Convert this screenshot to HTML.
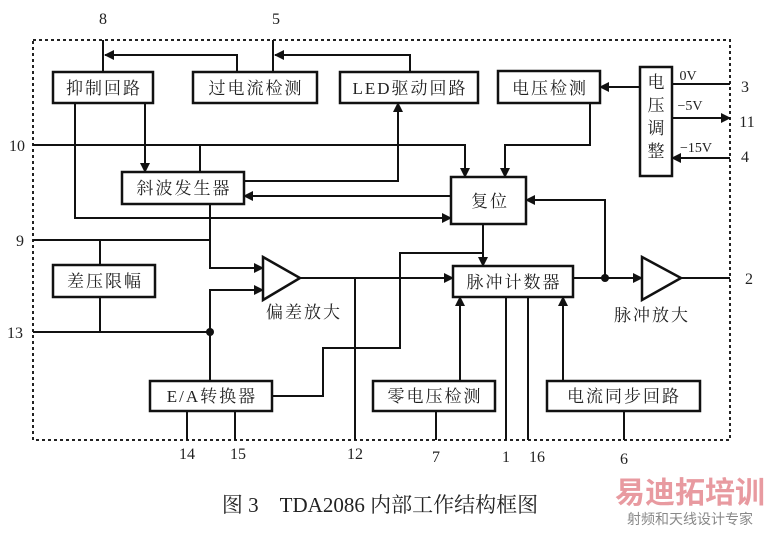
<!DOCTYPE html>
<html><head><meta charset="utf-8"><style>
body{margin:0;background:#fff}
svg text{font-family:"Liberation Serif","Noto Serif CJK SC",serif;fill:#222}
.b text{letter-spacing:2px}
</style></head><body>
<svg width="765" height="529" viewBox="0 0 765 529" xmlns="http://www.w3.org/2000/svg">
<defs><marker id="a" markerWidth="10" markerHeight="10" refX="9" refY="5" orient="auto" markerUnits="userSpaceOnUse"><path d="M0,0 L10,5 L0,10 z" fill="#111"/></marker></defs>
<rect x="33" y="40" width="697" height="400" fill="none" stroke="#222" stroke-width="2" stroke-dasharray="3,3"/>
<g fill="#fff" stroke="#111" stroke-width="2.5">
<rect x="53" y="72" width="100" height="31"/>
<rect x="193" y="72" width="124" height="31"/>
<rect x="340" y="72" width="138" height="31"/>
<rect x="498" y="71" width="102" height="32"/>
<rect x="640" y="67" width="32" height="109"/>
<rect x="122" y="172" width="122" height="32"/>
<rect x="451" y="177" width="75" height="47"/>
<rect x="53" y="265" width="102" height="32"/>
<rect x="453" y="266" width="120" height="31"/>
<rect x="150" y="381" width="122" height="30"/>
<rect x="373" y="381" width="122" height="30"/>
<rect x="547" y="381" width="153" height="30"/>
<path d="M263,257 L300,278 L263,300 z"/>
<path d="M642,257 L681,278 L642,300 z"/>
</g>
<g fill="none" stroke="#111" stroke-width="2">
<path d="M103,40 V72"/><path d="M273,40 V72"/>
<path d="M237,72 V55 H105" marker-end="url(#a)"/>
<path d="M410,72 V55 H275" marker-end="url(#a)"/>
<path d="M33,145 H465 V177" marker-end="url(#a)"/>
<path d="M200,145 V172"/>
<path d="M145,103 V172" marker-end="url(#a)"/>
<path d="M75,103 V218 H451" marker-end="url(#a)"/>
<path d="M244,181 H398 V103" marker-end="url(#a)"/>
<path d="M451,196 H244" marker-end="url(#a)"/>
<path d="M590,103 V145 H505 V177" marker-end="url(#a)"/>
<path d="M640,87 H600" marker-end="url(#a)"/>
<path d="M672,84 H730"/>
<path d="M672,118 H730" marker-end="url(#a)"/>
<path d="M730,158 H672" marker-end="url(#a)"/>
<path d="M605,278 V200 H526" marker-end="url(#a)"/>
<path d="M483,224 V266" marker-end="url(#a)"/>
<path d="M272,396 H323 V348 H400 V253 H483"/>
<path d="M33,240 H210"/>
<path d="M210,204 V268 H263" marker-end="url(#a)"/>
<path d="M210,381 V290 H263" marker-end="url(#a)"/>
<path d="M100,240 V265"/><path d="M100,297 V332"/>
<path d="M33,332 H210"/>
<path d="M300,278 H453" marker-end="url(#a)"/>
<path d="M355,278 V440"/>
<path d="M573,278 H642" marker-end="url(#a)"/>
<path d="M681,278 H730"/>
<path d="M187,411 V440"/><path d="M235,411 V440"/>
<path d="M436,411 V440"/><path d="M506,297 V440"/><path d="M528,297 V440"/><path d="M624,411 V440"/>
<path d="M460,381 V297" marker-end="url(#a)"/>
<path d="M563,381 V297" marker-end="url(#a)"/>
</g>
<circle cx="210" cy="332" r="4" fill="#111"/>
<circle cx="605" cy="278" r="4" fill="#111"/>
<g font-size="17" text-anchor="middle" class="b">
<text x="104" y="94">抑制回路</text>
<text x="256" y="94">过电流检测</text>
<text x="410" y="94">LED驱动回路</text>
<text x="550" y="94">电压检测</text>
<text x="184" y="194">斜波发生器</text>
<text x="490" y="207">复位</text>
<text x="105" y="287">差压限幅</text>
<text x="514" y="288">脉冲计数器</text>
<text x="212" y="402">E/A转换器</text>
<text x="435" y="402">零电压检测</text>
<text x="624" y="402">电流同步回路</text>
<text x="304" y="318">偏差放大</text>
<text x="652" y="321">脉冲放大</text>
</g>
<g font-size="17" text-anchor="middle">
<text x="656" y="88">电</text><text x="656" y="111">压</text><text x="656" y="134">调</text><text x="656" y="157">整</text>
</g>
<g font-size="16" text-anchor="middle">
<text x="103" y="24">8</text><text x="276" y="24">5</text>
<text x="17" y="151">10</text><text x="20" y="246">9</text><text x="15" y="338">13</text>
<text x="745" y="92">3</text><text x="747" y="127">11</text><text x="745" y="162">4</text><text x="749" y="284">2</text>
<text x="187" y="459">14</text><text x="238" y="459">15</text><text x="355" y="459">12</text>
<text x="436" y="462">7</text><text x="506" y="462">1</text><text x="537" y="462">16</text><text x="624" y="464">6</text>
<text x="688" y="80" font-size="14">0V</text>
<text x="690" y="110" font-size="14">−5V</text>
<text x="696" y="152" font-size="14">−15V</text>
</g>
<text x="380" y="512" font-size="21" text-anchor="middle">图 3　TDA2086 内部工作结构框图</text>
<text x="690" y="503" font-size="30" font-weight="bold" text-anchor="middle" style="fill:#e89aa0;font-family:'Liberation Sans','Noto Sans CJK SC',sans-serif">易迪拓培训</text>
<text x="690" y="524" font-size="14" text-anchor="middle" style="fill:#888;font-family:'Liberation Sans','Noto Sans CJK SC',sans-serif">射频和天线设计专家</text>
</svg>
</body></html>
